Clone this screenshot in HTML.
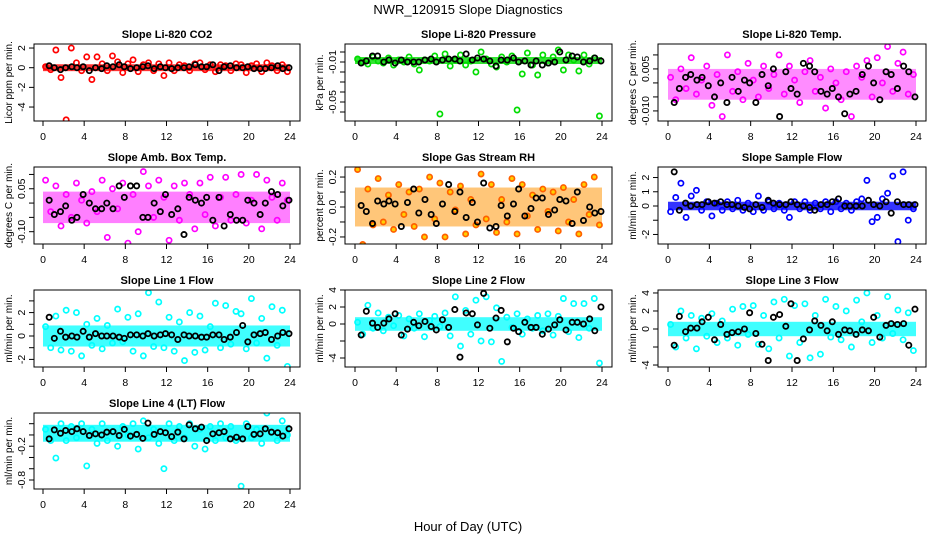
<!DOCTYPE html>
<html><head><meta charset="utf-8"><style>
html,body{margin:0;padding:0;background:#fff}
svg{display:block;font-family:"Liberation Sans",Arial,sans-serif}
</style></head><body>
<svg id="c" width="936" height="540" viewBox="0 0 936 540">
<text x="468" y="14" text-anchor="middle" font-size="13">NWR_120915  Slope Diagnostics</text>
<text x="468" y="531" text-anchor="middle" font-size="13">Hour of Day (UTC)</text>
</svg>
<script>
const xTicks=[0,4,8,12,16,20,24];
const cTimes=[0.25,0.75,1.25,1.75,2.25,2.75,3.25,3.75,4.25,4.75,5.25,5.75,6.25,6.75,7.25,7.75,8.25,8.75,9.25,9.75,10.25,10.75,11.25,11.75,12.25,12.75,13.25,13.75,14.25,14.75,15.25,15.75,16.25,16.75,17.25,17.75,18.25,18.75,19.25,19.75,20.25,20.75,21.25,21.75,22.25,22.75,23.25,23.75];
const bTimes=[0.6,1.1,1.7,2.2,2.8,3.3,3.9,4.5,5.1,5.7,6.2,6.8,7.4,7.9,8.5,9.1,9.7,10.2,10.8,11.4,11.9,12.5,13.1,13.7,14.2,14.8,15.4,15.9,16.5,17.1,17.6,18.2,18.8,19.4,19.9,20.5,21.1,21.6,22.2,22.8,23.3,23.9];

const co2Color=[0.1,-0.2,1.8,-1.0,-5.3,2.0,0.5,-0.3,1.1,-1.2,1.1,0.4,-0.3,1.2,0.6,-0.5,0.4,0.8,-0.4,0.3,0.5,-0.3,0.4,-0.8,0.5,-0.3,0.3,0.2,-0.3,0.4,0.5,-0.2,0.3,-0.4,0.3,0.2,-0.3,0.4,0.3,-0.5,0.2,0.4,-0.4,0.5,0.2,-0.3,0.3,-0.4];
const co2Black=[0.2,0,-0.2,0,0.1,0,0.1,-0.3,0,-0.1,0.2,0.1,0.3,0.1,-0.1,0,0.1,0.2,-0.1,0.1,0,-0.1,0,0,0.1,0.3,0.1,0.1,0.3,-0.3,0.1,0.2,0,0,0.1,-0.1,-0.1,-0.1,0,0.2,-0.1,0];
const presColor=[-0.007,-0.010,-0.012,-0.005,-0.009,-0.011,-0.006,-0.013,-0.008,-0.010,-0.005,-0.012,-0.018,-0.008,-0.009,-0.004,-0.062,-0.002,-0.014,-0.008,-0.003,-0.013,-0.009,-0.020,0.000,-0.007,-0.012,-0.015,-0.005,-0.010,-0.004,-0.058,-0.022,-0.001,-0.013,-0.023,-0.003,-0.011,-0.005,0.002,-0.018,-0.003,-0.008,-0.019,-0.003,-0.012,-0.006,-0.064];
const presBlack=[-0.011,-0.009,-0.004,-0.004,-0.010,-0.008,-0.011,-0.008,-0.010,-0.010,-0.010,-0.008,-0.007,-0.010,-0.008,-0.007,-0.007,-0.009,-0.002,-0.008,-0.006,-0.007,-0.009,-0.014,-0.008,-0.008,-0.006,-0.010,-0.009,-0.013,-0.009,-0.013,-0.011,-0.010,0.000,-0.008,-0.004,-0.005,-0.010,-0.009,-0.006,-0.009];
const tempColor=[0.002,-0.006,0.005,-0.002,0.009,-0.004,0.001,0.006,-0.008,0.003,-0.012,0.010,-0.003,0.004,-0.006,0.007,0.001,-0.005,0.006,-0.002,0.003,0.010,-0.004,0.006,0.001,-0.007,0.004,0.008,-0.003,0.002,-0.009,0.005,0.000,-0.006,0.004,-0.012,0.006,0.002,0.008,-0.005,0.009,0.000,0.013,-0.003,0.007,0.011,-0.004,0.003];
const tempBlack=[-0.007,-0.002,0.002,0.003,0.001,0.002,-0.001,-0.005,0.000,-0.007,0.002,-0.003,0.001,0.000,-0.007,0.003,-0.001,0.005,-0.012,0.004,-0.002,-0.004,0.007,0.006,0.004,-0.003,-0.004,-0.002,-0.005,-0.011,-0.004,-0.003,0.003,0.006,0.000,-0.006,0.004,0.003,-0.002,0.006,0.004,-0.005];
const ambColor=[0.08,-0.03,0.06,-0.08,0.03,-0.05,0.07,0.01,-0.07,0.04,-0.03,0.08,-0.12,0.05,-0.02,0.07,-0.14,0.03,-0.10,0.11,0.06,-0.05,0.08,0.02,-0.13,0.06,-0.06,0.07,0.03,-0.09,0.07,-0.04,0.09,-0.08,0.02,0.09,-0.06,0.03,0.10,-0.07,0.01,0.10,-0.09,0.08,0.02,-0.06,0.07,0.01];
const ambBlack=[0.01,-0.04,-0.03,-0.01,-0.06,-0.05,0.03,0.00,-0.02,-0.02,0.00,-0.02,0.06,0.02,0.06,0.06,-0.05,-0.05,0.00,-0.03,0.03,-0.04,-0.02,-0.11,0.02,0.01,0.00,0.02,-0.06,0.02,-0.08,-0.04,-0.06,-0.06,0.01,0.00,-0.04,0.00,0.04,0.03,-0.01,0.01];
const rhColor=[0.25,-0.25,0.12,-0.12,0.19,-0.10,0.08,-0.15,0.15,-0.05,0.10,-0.13,0.12,-0.20,0.20,-0.08,0.16,-0.20,0.10,-0.02,0.14,-0.18,0.05,-0.12,0.22,-0.08,0.15,-0.17,0.05,-0.10,0.19,-0.18,0.15,-0.06,0.08,-0.15,0.12,-0.03,0.10,-0.16,0.13,-0.10,0.05,-0.18,0.15,-0.05,0.20,-0.12];
const rhBlack=[0.01,-0.03,-0.11,0.04,0.02,0.04,0.02,-0.13,0.03,0.12,-0.04,0.05,-0.05,-0.11,0.02,0.15,-0.03,0.10,-0.07,0.03,-0.10,0.16,-0.14,-0.13,0.01,-0.06,0.02,0.12,-0.06,-0.01,0.06,0.06,-0.05,-0.02,0.05,0.04,-0.11,0.10,-0.09,0.00,-0.04,-0.03];
const sfColor=[-0.4,0.6,1.6,-0.8,0.7,1.1,-0.3,0.3,-0.7,0.2,-0.3,0.3,-0.2,0.4,-0.3,0.2,-0.4,0.7,-0.3,0.3,-0.2,0.2,-0.3,-0.8,0.3,-0.2,0.3,-0.3,0.2,-0.2,0.3,-0.4,0.3,-0.2,0.2,-0.3,0.3,0.5,1.8,-1.1,-0.8,0.5,0.9,2.1,-2.5,2.4,-1.0,-0.2];
const sfBlack=[2.4,-0.3,0.2,0.0,0.1,0.1,0.3,0.2,0.3,0.1,0.1,0.0,-0.1,-0.2,0.1,-0.1,0.4,0.2,0.1,0.1,0.3,0.1,0.0,-0.1,-0.3,0.1,0.1,0.3,0.5,0.0,0.0,0.0,0.0,0.4,0.1,0.0,0.3,-0.5,0.3,0.1,0.1,0.1];
const l1Color=[0.8,-1.0,1.7,-1.2,2.2,-1.3,2.0,-1.7,1.0,-0.8,1.5,-1.1,0.9,-0.6,2.3,-0.5,1.6,-1.3,1.9,-1.7,3.7,-0.9,2.9,-1.0,1.6,-1.3,1.2,-2.1,2.0,-1.4,1.7,-1.2,0.8,2.8,-1.0,2.6,-0.7,2.1,1.9,-1.1,3.2,-0.6,1.5,-1.9,2.5,-0.8,2.2,-2.6];
const l1Black=[1.6,-0.2,0.4,-0.1,0.0,-0.1,0.4,-0.1,0.2,0.0,0.0,0.0,-0.1,-0.2,0.1,0.1,0.0,0.2,0.0,0.1,0.2,0.1,-0.3,0.1,0.0,0.0,-0.1,-0.1,0.1,0.1,-0.3,-0.1,0.3,0.9,-0.5,0.1,0.2,0.3,-0.3,0.0,0.3,0.2];
const l2Color=[0.2,-1.2,2.2,-0.5,1.3,-0.8,0.8,-0.2,1.0,-1.4,0.6,-0.5,1.2,-1.5,0.4,0.9,-0.3,1.3,-1.4,3.2,-2.6,1.6,-1.2,2.8,-2.0,3.2,-2.1,1.9,-4.4,0.8,-0.4,1.2,-1.2,0.6,-0.5,1.0,-0.8,1.2,-1.3,0.9,3.0,-0.9,2.4,-1.6,2.4,-0.5,3.0,-4.6];
const l2Black=[-1.3,1.5,0.1,-0.4,0.1,0.6,1.2,-1.3,-0.6,0.2,-0.2,0.3,-0.3,-0.7,0.5,-0.4,1.7,-3.9,1.3,1.2,-0.1,3.6,-0.5,0.7,1.6,-2.1,-0.5,-0.9,0.2,-0.4,-0.4,-1.2,-0.6,-0.1,0.5,-0.7,0.2,0.2,0.0,0.6,-0.8,2.0];
const l3Color=[0.5,-2.0,2.0,-1.0,1.5,-2.2,1.2,-0.8,1.7,-1.5,0.9,-1.0,2.2,-1.8,2.5,-0.6,2.6,-1.7,1.5,-2.2,3.0,-1.0,3.3,-3.0,2.6,-1.5,2.8,-3.2,1.5,-2.8,3.3,-0.9,2.5,-1.2,2.0,-2.0,3.2,0.8,4.0,-1.5,1.5,-1.0,3.6,-0.5,2.1,-1.2,1.8,-2.4];
const l3Black=[-1.8,1.4,-0.3,0.1,0.1,0.8,1.3,-1.2,0.5,-0.6,-0.4,-0.3,0.0,1.8,-0.5,-1.7,-3.5,1.3,1.6,0.3,2.8,-3.5,-1.1,-0.1,0.9,0.4,-0.2,0.8,-0.6,-0.1,-0.2,-0.6,-0.1,-0.2,1.3,-0.9,0.4,0.6,0.5,0.6,-1.8,2.2];
const l4Color=[0.1,-0.1,-0.41,0.2,-0.1,0.15,-0.05,0.2,-0.55,0.1,-0.15,0.2,-0.1,0.05,-0.2,0.15,0.0,0.2,-0.25,0.25,-0.05,0.1,-0.15,-0.6,0.2,-0.1,0.15,-0.05,0.2,-0.2,0.1,-0.25,0.15,-0.1,0.2,-0.05,0.15,-0.1,-0.91,0.2,-0.05,0.1,-0.15,0.39,0.05,-0.1,0.25,0.0];
const l4Black=[-0.07,0.09,0.03,0.08,0.06,0.11,0.06,-0.01,0.02,0.00,0.05,0.06,-0.01,0.10,-0.02,0.01,-0.06,0.21,0.01,0.06,0.04,-0.03,0.05,-0.07,0.18,0.11,0.14,-0.10,0.02,0.04,0.06,-0.07,-0.04,-0.07,0.15,0.01,0.02,0.11,0.05,0.04,-0.02,0.11];

const co2Band=[-0.35,0.35], presBand=[-0.012,-0.005], tempBand=[-0.006,0.005], ambBand=[-0.07,0.04], rhBand=[-0.13,0.13], sfBand=[-0.3,0.3], l1Band=[-0.9,0.9], l2Band=[-0.8,0.8], l3Band=[-0.8,0.8], l4Band=[-0.12,0.18];

const panels=[
 {name:"co2",title:"Slope Li-820 CO2",yl:"Licor ppm per min.",col:0,row:0,yr:[2.41,-5.42],ticks:[2,0,-2,-4],labels:["2","0","-2","-4"],color:"#ff0000",fill:"none",bandFill:"#ff0000",c:co2Color,b:co2Black,band:co2Band,op:0.8},
 {name:"pressure",title:"Slope Li-820 Pressure",yl:"kPa per min.",col:1,row:0,yr:[0.008,-0.069],ticks:[0,-0.01,-0.02,-0.03,-0.04,-0.05,-0.06],labels:["","-0.01","","","","-0.05",""],color:"#00dd00",fill:"none",bandFill:"#00dd00",c:presColor,b:presBlack,band:presBand,op:0.8},
 {name:"temp",title:"Slope Li-820 Temp.",yl:"degrees C per min.",col:2,row:0,yr:[0.0139,-0.0136],ticks:[0.010,0.005,0,-0.005,-0.010],labels:["","0.005","","","-0.010"],color:"#ff00ff",fill:"none",bandFill:"#ff00ff",c:tempColor,b:tempBlack,band:tempBand,op:0.45},
 {name:"amb-box-temp",title:"Slope Amb. Box Temp.",yl:"degrees C per min.",col:0,row:1,yr:[0.126,-0.143],ticks:[0.10,0.05,0,-0.05,-0.10],labels:["","0.05","","","-0.10"],color:"#ff00ff",fill:"none",bandFill:"#ff00ff",c:ambColor,b:ambBlack,band:ambBand,op:0.5},
 {name:"gas-stream-rh",title:"Slope Gas Stream RH",yl:"percent per min.",col:1,row:1,yr:[0.267,-0.247],ticks:[0.2,0.1,0,-0.1,-0.2],labels:["0.2","","0.0","","-0.2"],color:"#ff6000",fill:"#ffd000",bandFill:"#ffa020",c:rhColor,b:rhBlack,band:rhBand,op:0.6},
 {name:"sample-flow",title:"Slope Sample Flow",yl:"ml/min per min.",col:2,row:1,yr:[2.74,-2.67],ticks:[2,1,0,-1,-2],labels:["2","1","0","","-2"],color:"#0000ff",fill:"none",bandFill:"#0000ff",c:sfColor,b:sfBlack,band:sfBand,op:0.8},
 {name:"line1-flow",title:"Slope Line 1 Flow",yl:"ml/min per min.",col:0,row:2,yr:[3.93,-2.65],ticks:[3,2,1,0,-1,-2],labels:["","2","","0","","-2"],color:"#00ffff",fill:"none",bandFill:"#00ffff",c:l1Color,b:l1Black,band:l1Band,op:0.75},
 {name:"line2-flow",title:"Slope Line 2 Flow",yl:"ml/min per min.",col:1,row:2,yr:[4.0,-5.06],ticks:[4,2,0,-2,-4],labels:["4","2","0","","-4"],color:"#00ffff",fill:"none",bandFill:"#00ffff",c:l2Color,b:l2Black,band:l2Band,op:0.75},
 {name:"line3-flow",title:"Slope Line 3 Flow",yl:"ml/min per min.",col:2,row:2,yr:[4.33,-4.22],ticks:[4,2,0,-2,-4],labels:["4","2","0","","-4"],color:"#00ffff",fill:"none",bandFill:"#00ffff",c:l3Color,b:l3Black,band:l3Band,op:0.75},
 {name:"line4-flow",title:"Slope Line 4 (LT) Flow",yl:"ml/min per min.",col:0,row:3,yr:[0.39,-0.96],ticks:[0.2,0,-0.2,-0.4,-0.6,-0.8],labels:["","","-0.2","","","-0.8"],color:"#00ffff",fill:"none",bandFill:"#00ffff",c:l4Color,b:l4Black,band:l4Band,op:0.8}
];
const colBox=[[34,300,43,290],[345,612,355,602],[658,926,668,916]];
const rowBox=[[44,121],[167,244],[290,367],[413,489]];
const NS="http://www.w3.org/2000/svg";
const svg=document.getElementById("c");
function mk(tag,attrs,parent){const e=document.createElementNS(NS,tag);for(const k in attrs)e.setAttribute(k,attrs[k]);(parent||svg).appendChild(e);return e;}

panels.forEach(p=>{
  const [bl,br,x0,x24]=colBox[p.col];
  const [bt,bb]=rowBox[p.row];
  const xs=t=>x0+(t/24)*(x24-x0);
  const ys=v=>bt+(p.yr[0]-v)/(p.yr[0]-p.yr[1])*(bb-bt);
  const g=mk("g",{});
  
  
  const clip=mk("clipPath",{id:"clip-"+p.name},g);
  mk("rect",{x:bl,y:bt,width:br-bl,height:bb-bt},clip);
  const title=mk("text",{x:(bl+br)/2,y:bt-6,"text-anchor":"middle","font-size":"11","font-weight":"bold"},g);
  title.textContent=p.title;
  
  
  const yl=mk("text",{x:0,y:0,"text-anchor":"middle","font-size":"10",transform:`translate(${bl-22},${(bt+bb)/2}) rotate(-90)`},g);
  yl.textContent=p.yl;
  
  
  p.ticks.forEach((v,i)=>{
    const y=ys(v);
    mk("line",{x1:bl-5,x2:bl,y1:y,y2:y,stroke:"#000","stroke-width":1},g);
    if(p.labels[i]){
      const t=mk("text",{x:0,y:0,"text-anchor":"middle","font-size":"10.5",transform:`translate(${bl-9},${y}) rotate(-90)`},g);
      t.textContent=p.labels[i];
      
      
    }
  });
  xTicks.forEach(v=>{
    const x=xs(v);
    mk("line",{x1:x,x2:x,y1:bb,y2:bb+5,stroke:"#000","stroke-width":1},g);
    const t=mk("text",{x:x,y:bb+19,"text-anchor":"middle","font-size":"10.5"},g);
    t.textContent=String(v);
    
    
  });
  const pg=mk("g",{"clip-path":`url(#clip-${p.name})`},g);
  const band=mk("rect",{x:xs(0),y:ys(p.band[1]),width:xs(24)-xs(0),height:ys(p.band[0])-ys(p.band[1]),fill:p.bandFill,opacity:p.op},pg);
  
  
  p.c.forEach((v,i)=>{
    if(cTimes[i]===undefined)return;
    const c=mk("circle",{cx:xs(cTimes[i]),cy:ys(v),r:2.6,fill:p.fill,stroke:p.color,"stroke-width":1.7},pg);
    
    
  });
  p.b.forEach((v,i)=>{
    if(bTimes[i]===undefined)return;
    const c=mk("circle",{cx:xs(bTimes[i]),cy:ys(v),r:2.6,fill:"none",stroke:"#000","stroke-width":1.8},pg);
    
    
  });
  mk("rect",{x:bl,y:bt,width:br-bl,height:bb-bt,fill:"none",stroke:"#000","stroke-width":1},g);
});
</script>
</body></html>
